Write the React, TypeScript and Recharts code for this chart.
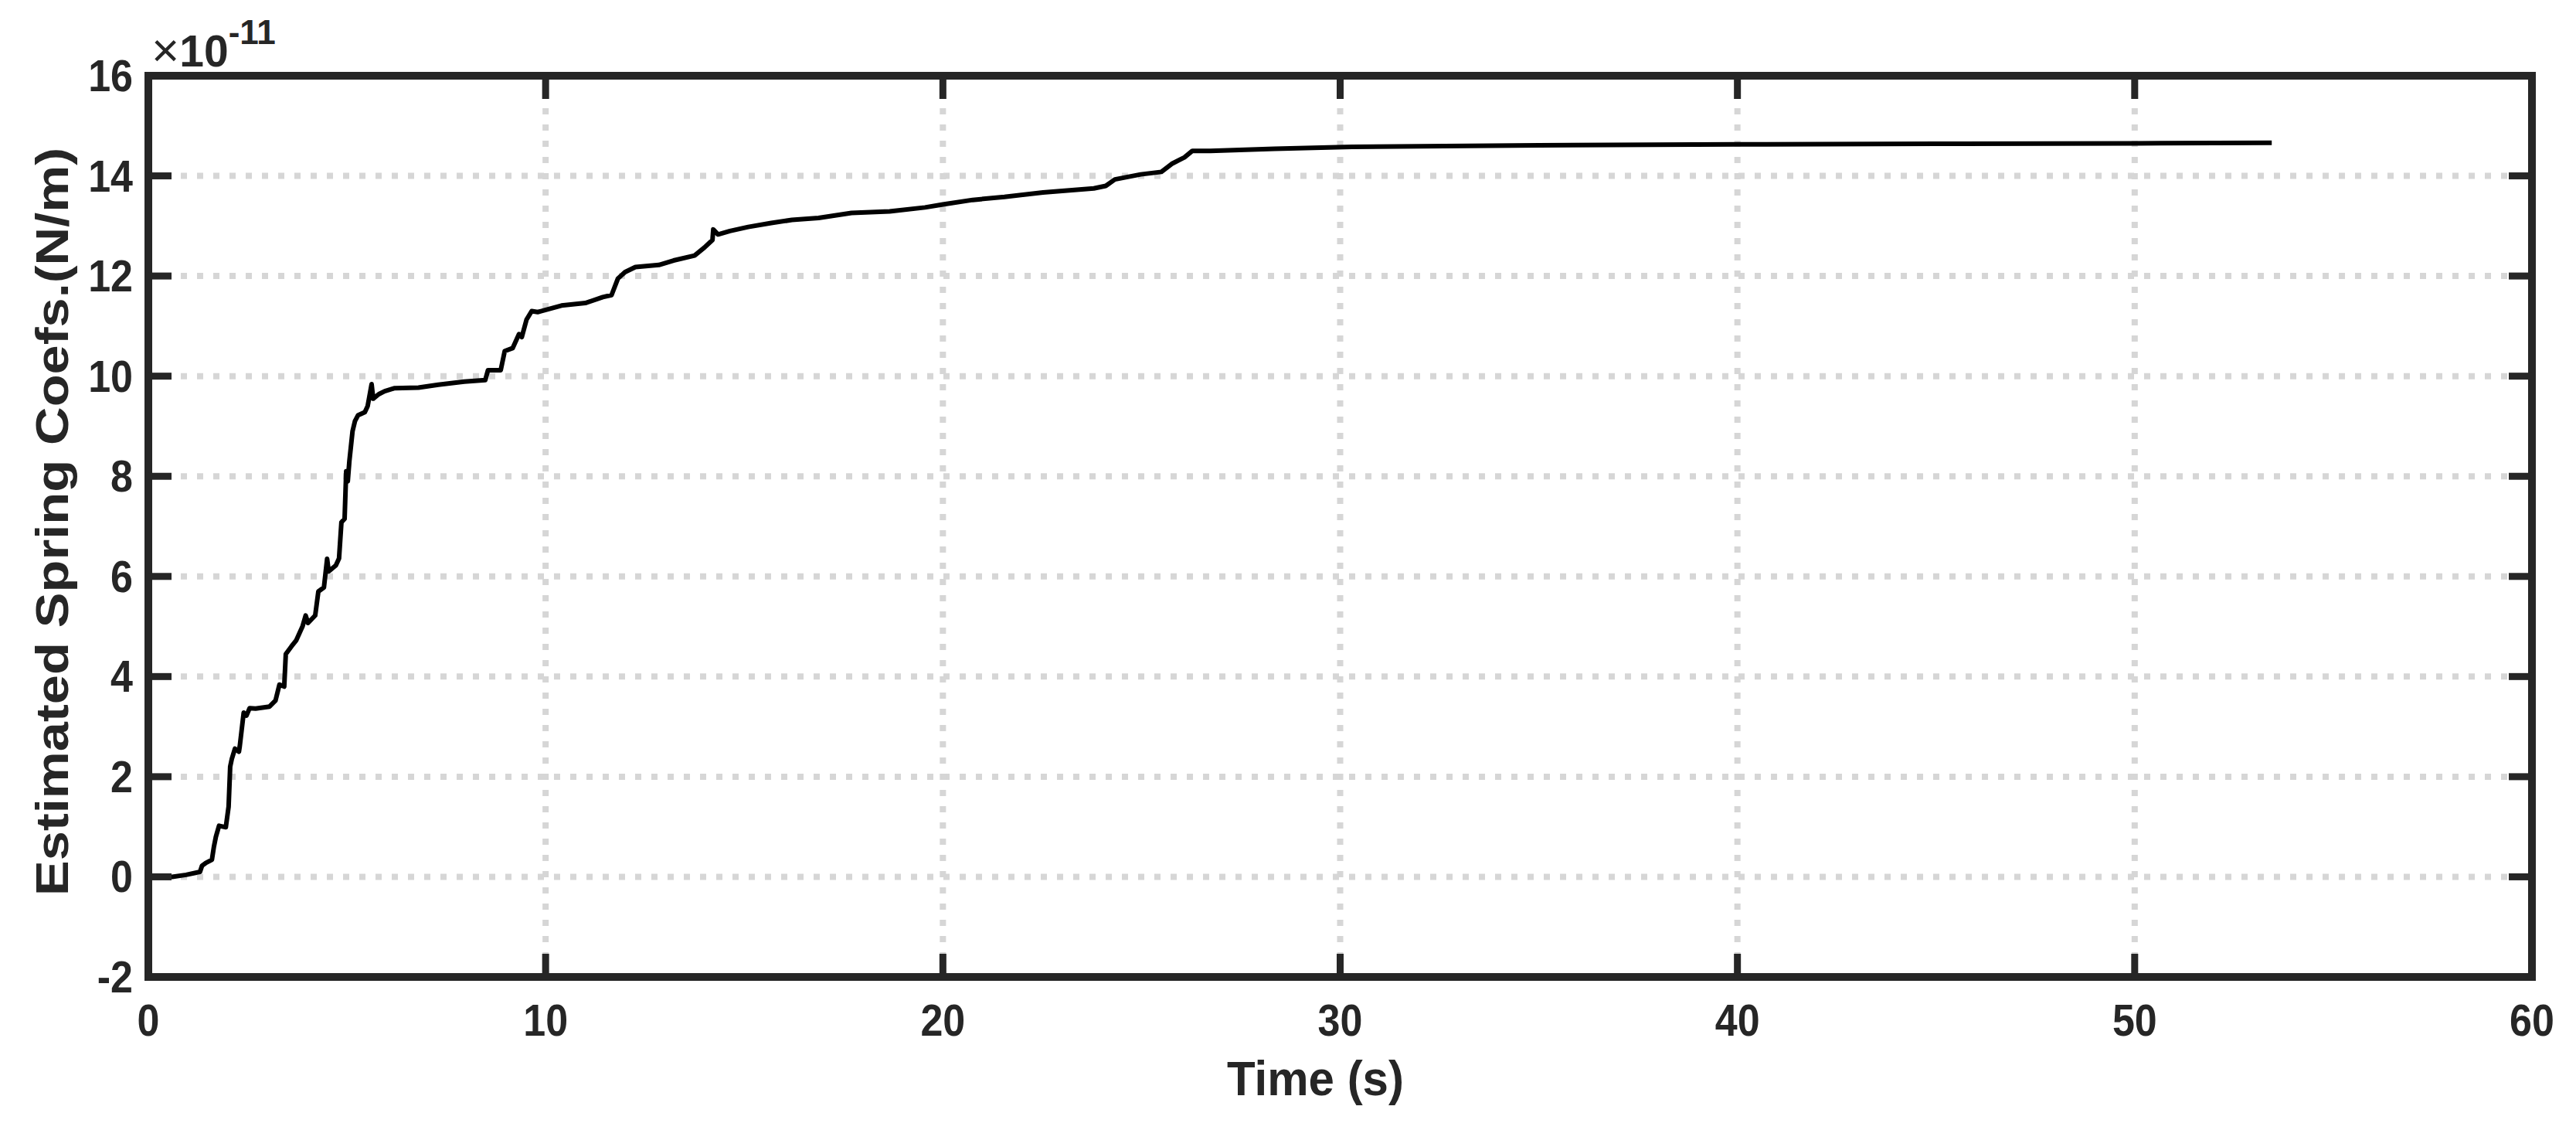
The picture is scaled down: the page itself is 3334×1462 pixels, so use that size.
import React from 'react';
import { LineChart, Line, XAxis, YAxis, CartesianGrid, Label } from 'recharts';

// estimated spring coefficient (x1e-11 N/m)
const times = [
  0, 0.6, 0.95, 1.3, 1.35, 1.45, 1.6, 1.65, 1.7, 1.78, 1.95, 2.02, 2.06, 2.1, 2.18, 2.28, 2.3, 2.4, 2.47, 2.55,
  2.7, 3.05, 3.2, 3.3, 3.42, 3.46, 3.6, 3.72, 3.88, 3.96, 4.02, 4.2, 4.28, 4.42, 4.5, 4.54, 4.72, 4.8, 4.86, 4.94,
  4.98, 5.02, 5.06, 5.14, 5.2, 5.28, 5.45, 5.52, 5.62, 5.66, 5.8, 5.95, 6.2, 6.8, 7.3, 7.95, 8.48, 8.55, 8.87, 8.97,
  9.17, 9.33, 9.4, 9.52, 9.65, 9.8, 9.9, 10.4, 11.0, 11.44, 11.66, 11.82, 12.0, 12.26, 12.85, 13.22, 13.75, 14.0, 14.2, 14.22,
  14.34, 14.64, 15.1, 15.68, 16.2, 16.87, 17.7, 18.66, 19.55, 20.0, 20.75, 21.55, 22.52, 23.8, 24.1, 24.33, 24.98, 25.5, 25.76, 26.08,
  26.28, 26.73, 28.35, 30.3, 35, 40, 45, 50, 53.45,
];
const springCoef = [
  0, 0, 0.04, 0.1, 0.22, 0.28, 0.34, 0.6, 0.8, 1.02, 0.99, 1.4, 2.2, 2.35, 2.56, 2.5, 2.6, 3.28, 3.22, 3.37,
  3.36, 3.4, 3.52, 3.84, 3.8, 4.45, 4.6, 4.72, 5.0, 5.22, 5.07, 5.22, 5.7, 5.78, 6.35, 6.1, 6.22, 6.36, 7.08, 7.15,
  8.1, 7.9, 8.3, 8.9, 9.1, 9.22, 9.28, 9.4, 9.84, 9.55, 9.64, 9.7, 9.76, 9.77, 9.83, 9.89, 9.92, 10.12, 10.12, 10.5,
  10.56, 10.84, 10.78, 11.13, 11.3, 11.28, 11.3, 11.41, 11.46, 11.58, 11.62, 11.95, 12.08, 12.18, 12.22, 12.31, 12.41, 12.57, 12.72, 12.93,
  12.83, 12.9, 12.98, 13.06, 13.12, 13.16, 13.26, 13.29, 13.37, 13.43, 13.52, 13.58, 13.67, 13.75, 13.8, 13.93, 14.03, 14.08, 14.24, 14.37,
  14.5, 14.5, 14.54, 14.58, 14.61, 14.63, 14.64, 14.65, 14.66,
];

const xTicks = [0, 10, 20, 30, 40, 50, 60];
const yTicks = [-2, 0, 2, 4, 6, 8, 10, 12, 14, 16];

const data = times.map((t, i) => ({ t, v: springCoef[i] }));

const FONT = '"Liberation Sans", Arial, Helvetica, sans-serif';
const INK = '#262626';
const TICK_LEN = 30;
const axisLine = { stroke: INK, strokeWidth: 10, strokeLinecap: 'square' as const };

const BottomTick = ({ x, y, payload }: any) => (
  <g>
    <line x1={x} x2={x} y1={y} y2={y - TICK_LEN} stroke={INK} strokeWidth={9} />
    <text
      transform={`translate(${x},${y + 76}) scale(1,1.1)`}
      textAnchor="middle"
      fontFamily={FONT}
      fontWeight={700}
      fontSize={52}
      fill={INK}
    >
      {payload.value}
    </text>
  </g>
);

const TopTick = ({ x, y }: any) => (
  <line x1={x} x2={x} y1={y} y2={y + TICK_LEN} stroke={INK} strokeWidth={9} />
);

const LeftTick = ({ x, y, payload }: any) => (
  <g>
    <line x1={x} x2={x + TICK_LEN} y1={y} y2={y} stroke={INK} strokeWidth={9} />
    <text
      transform={`translate(${x - 20},${y + 20}) scale(1,1.1)`}
      textAnchor="end"
      fontFamily={FONT}
      fontWeight={700}
      fontSize={52}
      fill={INK}
    >
      {payload.value}
    </text>
  </g>
);

const RightTick = ({ x, y }: any) => (
  <line x1={x} x2={x - TICK_LEN} y1={y} y2={y} stroke={INK} strokeWidth={9} />
);

const App: React.FC = () => {
  return (
    <div style={{ width: 3334, height: 1462, background: '#fff' }}>
      <style>{'body{margin:0}'}</style>
      <LineChart width={3334} height={1462} data={data} margin={{ top: 0, right: 0, bottom: 0, left: 0 }}>
        <CartesianGrid
          xAxisId="b"
          yAxisId="l"
          stroke="#d6d6d6"
          strokeWidth={8}
          strokeDasharray="8 13"
        />
        <XAxis
          xAxisId="b"
          dataKey="t"
          type="number"
          domain={[0, 60]}
          ticks={xTicks}
          allowDataOverflow
          height={198}
          axisLine={axisLine}
          tickLine={false}
          tickSize={0}
          tickMargin={0}
          tick={(p: any) => <BottomTick {...p} />}
          interval={0}
        >
          <Label
            content={({ viewBox }: any) => (
              <text
                transform={`translate(${viewBox.x + viewBox.width / 2 - 32},${viewBox.y + 153}) scale(1,1.05)`}
                textAnchor="middle"
                fontFamily={FONT}
                fontWeight={700}
                fontSize={60}
                fill={INK}
              >
                Time (s)
              </text>
            )}
          />
        </XAxis>
        <XAxis
          xAxisId="t"
          dataKey="t"
          type="number"
          orientation="top"
          domain={[0, 60]}
          ticks={xTicks}
          allowDataOverflow
          height={98}
          axisLine={axisLine}
          tickLine={false}
          tickSize={0}
          tickMargin={0}
          tick={(p: any) => <TopTick {...p} />}
          interval={0}
        >
          <Label
            content={({ viewBox }: any) => (
              <text x={viewBox.x + 4} y={86} fontFamily={FONT} fill={INK}>
                <tspan fontSize={62} fontWeight={400}>×</tspan>
                <tspan fontSize={57} fontWeight={700}>10</tspan>
                <tspan fontSize={44} fontWeight={700} dy={-29}>-11</tspan>
              </text>
            )}
          />
        </XAxis>
        <YAxis
          yAxisId="l"
          type="number"
          domain={[-2, 16]}
          ticks={yTicks}
          allowDataOverflow
          width={192}
          axisLine={axisLine}
          tickLine={false}
          tickSize={0}
          tickMargin={0}
          tick={(p: any) => <LeftTick {...p} />}
          interval={0}
        >
          <Label
            content={({ viewBox }: any) => {
              const cy = viewBox.y + viewBox.height / 2 - 6;
              return (
                <text
                  x={88}
                  y={cy}
                  transform={`rotate(-90, 88, ${cy})`}
                  textAnchor="middle"
                  fontFamily={FONT}
                  fontWeight={700}
                  fontSize={60}
                  fill={INK}
                  textLength={968}
                  lengthAdjust="spacingAndGlyphs"
                >
                  Estimated Spring Coefs.(N/m)
                </text>
              );
            }}
          />
        </YAxis>
        <YAxis
          yAxisId="r"
          orientation="right"
          type="number"
          domain={[-2, 16]}
          ticks={yTicks}
          allowDataOverflow
          width={57}
          axisLine={axisLine}
          tickLine={false}
          tickSize={0}
          tickMargin={0}
          tick={(p: any) => <RightTick {...p} />}
          interval={0}
        />
        <Line
          xAxisId="b"
          yAxisId="l"
          type="linear"
          dataKey="v"
          stroke="#000"
          strokeWidth={6}
          strokeLinejoin="round"
          dot={false}
          activeDot={false}
          isAnimationActive={false}
        />
        <Line
          xAxisId="t"
          yAxisId="r"
          type="linear"
          dataKey="v"
          stroke="none"
          dot={false}
          activeDot={false}
          isAnimationActive={false}
        />
      </LineChart>
    </div>
  );
};

export default App;
